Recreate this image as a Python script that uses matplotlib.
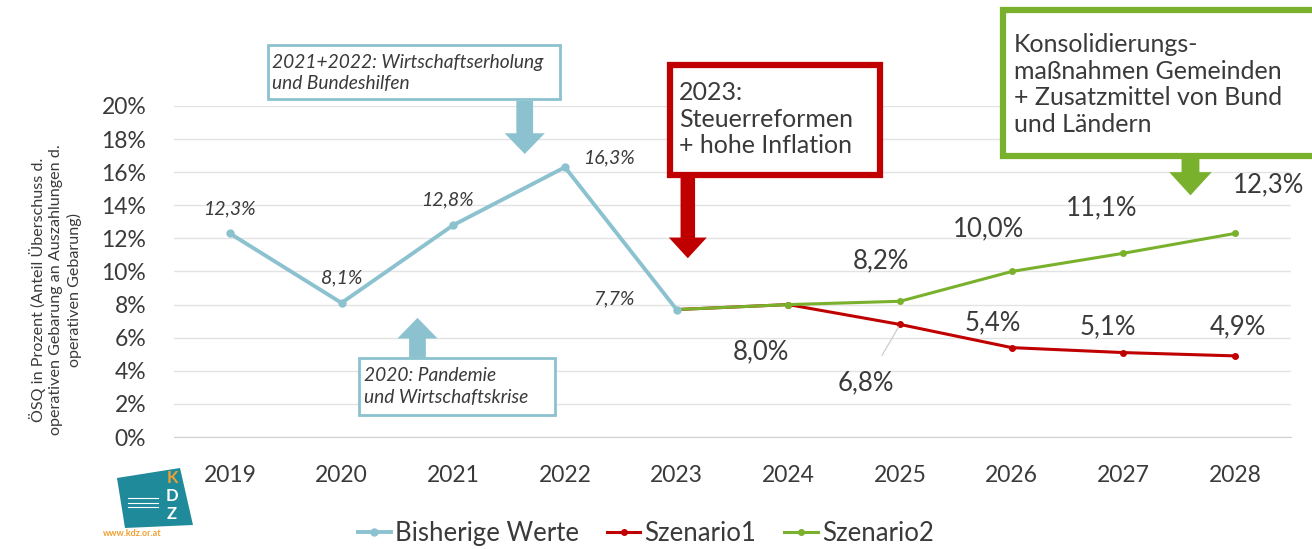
import matplotlib
matplotlib.use("Agg")
import matplotlib.pyplot as plt
from matplotlib.patches import Rectangle, FancyArrow, Polygon
from matplotlib.lines import Line2D

# Daten
jahre = ['2019', '2020', '2021', '2022', '2023', '2024', '2025', '2026', '2027', '2028']
bisher = [12.3, 8.1, 12.8, 16.3, 7.7]
szenario1 = [7.7, 8.0, 6.8, 5.4, 5.1, 4.9]
szenario2 = [7.7, 8.0, 8.2, 10.0, 11.1, 12.3]
y_ticks = [0, 2, 4, 6, 8, 10, 12, 14, 16, 18, 20]

BLAU = '#8cc2cf'
ROT = '#c00000'
GRUEN = '#7ab12c'
TEXT = '#3a3a3a'

plt.rcParams['font.family'] = ['Lato', 'DejaVu Sans']

fig = plt.figure(figsize=(13.12, 5.49), dpi=100)
ax = fig.add_axes([0.1326, 0.204, 0.8514, 0.603])

x_b = list(range(0, 5))
x_s = list(range(4, 10))

ax.plot(x_s, szenario1, color=ROT, lw=2.2, marker='o', ms=4, zorder=3)
ax.plot(x_s, szenario2, color=GRUEN, lw=2.2, marker='o', ms=4, zorder=3)
ax.plot(x_b, bisher, color=BLAU, lw=2.8, marker='o', ms=5, zorder=4)

ax.set_xlim(-0.5, 9.5)
ax.set_ylim(0, 20)
ax.set_xticks(range(len(jahre)))
ax.set_xticklabels(jahre)
ax.set_yticks(y_ticks)
ax.set_yticklabels([f'{v}%' for v in y_ticks])
ax.tick_params(axis='both', length=0, labelsize=16.5, colors=TEXT)
ax.tick_params(axis='y', pad=20)
ax.tick_params(axis='x', pad=20)
ax.grid(axis='y', color='#e3e3e3', lw=1)
ax.set_axisbelow(True)
for s in ['top', 'right', 'left']:
    ax.spines[s].set_visible(False)
ax.spines['bottom'].set_color('#d0d0d0')


def fmt(v):
    return f'{v:.1f}%'.replace('.', ',')


# Beschriftungen bisherige Werte (kursiv, klein)
off_b = [(0, 18), (0, 18), (-4, 18), (32, 7), (-45, 8)]
for x, v, o in zip(x_b, bisher, off_b):
    ax.annotate(fmt(v), (x, v), xytext=o, textcoords='offset points',
                ha='center', va='center', fontsize=14, style='italic', color=TEXT)

off_s1 = [None, (-20, -34), (-24.5, -42), (-13.5, 18), (-11.5, 18.5), (2, 21)]
for x, v, o in zip(x_s, szenario1, off_s1):
    if o is None:
        continue
    if x == 6:
        ax.annotate(fmt(v), (x, v), xytext=o, textcoords='offset points',
                    ha='center', va='center', fontsize=18.5, color=TEXT,
                    arrowprops=dict(arrowstyle='-', color='#c8c8c8', lw=0.8,
                                    shrinkA=10, shrinkB=2))
    else:
        ax.annotate(fmt(v), (x, v), xytext=o, textcoords='offset points',
                    ha='center', va='center', fontsize=18.5, color=TEXT)

off_s2 = [None, None, (-13.5, 29), (-16.5, 31), (-16, 32.5), (24, 35)]
for x, v, o in zip(x_s, szenario2, off_s2):
    if o is None:
        continue
    ax.annotate(fmt(v), (x, v), xytext=o, textcoords='offset points',
                ha='center', va='center', fontsize=18.5, color=TEXT)

# Kommentar-Boxen
ax.add_patch(Rectangle((0.34, 20.4), 2.615, 3.3, fill=True, fc='white',
                       ec=BLAU, lw=2, clip_on=False, zorder=5))
ax.text(0.38, 22.0, '2021+2022: Wirtschaftserholung\nund Bundeshilfen',
        fontsize=13.8, style='italic', color=TEXT, va='center', ha='left',
        linespacing=1.3, zorder=6)
ax.add_patch(FancyArrow(2.64, 20.3, 0, -3.2, width=0.15, head_width=0.36,
                        head_length=1.25, length_includes_head=True,
                        color=BLAU, lw=0, clip_on=False, zorder=5))

ax.add_patch(Rectangle((1.16, 1.33), 1.75, 3.44, fill=True, fc='white',
                       ec=BLAU, lw=2, clip_on=False, zorder=5))
ax.text(1.2, 3.05, '2020: Pandemie\nund Wirtschaftskrise',
        fontsize=13.8, style='italic', color=TEXT, va='center', ha='left',
        linespacing=1.3, zorder=6)
ax.add_patch(FancyArrow(1.68, 4.8, 0, 2.4, width=0.15, head_width=0.36,
                        head_length=1.25, length_includes_head=True,
                        color=BLAU, lw=0, clip_on=False, zorder=5))

ax.add_patch(Rectangle((3.94, 15.8), 1.88, 6.7, fill=True, fc='white',
                       ec=ROT, lw=4.5, clip_on=False, zorder=5))
ax.text(4.02, 19.2, '2023:\nSteuerreformen\n+ hohe Inflation',
        fontsize=18, color=TEXT, va='center', ha='left',
        linespacing=1.2, zorder=6)
ax.add_patch(FancyArrow(4.1, 15.8, 0, -5.0, width=0.13, head_width=0.34,
                        head_length=1.25, length_includes_head=True,
                        color=ROT, lw=0, clip_on=False, zorder=5))

ax.add_patch(Rectangle((6.92, 17.0), 3.0, 8.8, fill=True, fc='white',
                       ec=GRUEN, lw=4.5, clip_on=False, zorder=5))
ax.text(7.02, 21.3, 'Konsolidierungs-\nmaßnahmen Gemeinden\n+ Zusatzmittel von Bund\nund Ländern',
        fontsize=18, color=TEXT, va='center', ha='left',
        linespacing=1.2, zorder=6)
ax.add_patch(FancyArrow(8.6, 17.0, 0, -2.4, width=0.16, head_width=0.38,
                        head_length=1.4, length_includes_head=True,
                        color=GRUEN, lw=0, clip_on=False, zorder=5))

# Achsentitel
fig.text(0.042, 0.472,
         'ÖSQ in Prozent (Anteil Überschuss d.\noperativen Gebarung an Auszahlungen d.\noperativen Gebarung)',
         rotation=90, ha='center', va='center', fontsize=11.6, color=TEXT,
         linespacing=1.3)

# Legende
handles = [
    Line2D([], [], color=BLAU, lw=2.8, marker='o', ms=5),
    Line2D([], [], color=ROT, lw=2.2, marker='o', ms=4),
    Line2D([], [], color=GRUEN, lw=2.2, marker='o', ms=4),
]
fig.legend(handles, ['Bisherige Werte', 'Szenario1', 'Szenario2'],
           loc='center', bbox_to_anchor=(0.492, 0.028), ncol=3, frameon=False,
           fontsize=18.5, handlelength=1.3, handletextpad=0.15, columnspacing=1.1,
           labelcolor=TEXT)

# KDZ Logo
logo = Polygon([[117, 71], [180, 81], [193, 24], [125, 21]],
               closed=True, transform=None, fc='#1f8a9a', ec='none')
fig.patches.append(logo)
for buchst, yy, farbe in [('K', 71, '#f0a030'), ('D', 53, 'white'), ('Z', 35, 'white')]:
    fig.text(172 / 1312, yy / 549, buchst, ha='center', va='center',
             fontsize=12, color=farbe, fontweight='bold')
for yy in [51, 46, 42]:
    fig.lines.append(Line2D([128 / 1312, 158 / 1312], [yy / 549, yy / 549],
                            transform=fig.transFigure, color='white', lw=0.8))
fig.text(132 / 1312, 15 / 549, 'www.kdz.or.at', ha='center', va='center',
         fontsize=6.5, color='#f0a030', fontweight='bold')

fig.savefig('out.png', dpi=100)
